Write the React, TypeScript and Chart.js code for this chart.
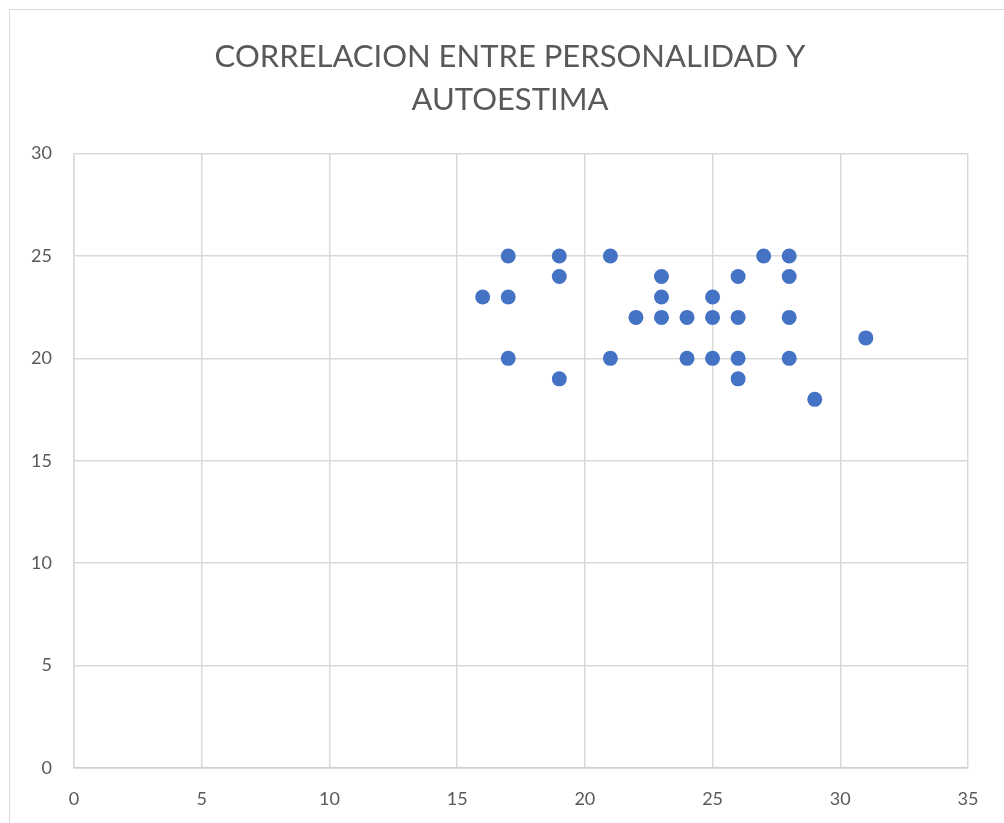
import React, { useEffect, useRef } from "react";
import { Chart, registerables } from "chart.js";

Chart.register(...registerables);

const titleLines = ["CORRELACION ENTRE PERSONALIDAD Y", "AUTOESTIMA"];
const personalidad = [16, 17, 17, 17, 19, 19, 19, 21, 21, 22, 23, 23, 23, 24, 24, 25, 25, 25, 26, 26, 26, 26, 27, 28, 28, 28, 28, 29, 31];
const autoestima = [23, 25, 23, 20, 25, 24, 19, 25, 20, 22, 24, 23, 22, 22, 20, 23, 22, 20, 24, 22, 20, 19, 25, 25, 24, 22, 20, 18, 21];
const xMin = 0, xMax = 35, xStep = 5;
const yMin = 0, yMax = 30, yStep = 5;

const FONT = "Lato, 'Open Sans', sans-serif";

export default function App() {
  const ref = useRef<HTMLCanvasElement | null>(null);
  useEffect(() => {
    if (!ref.current) return;
    const data = personalidad.map((x, i) => ({ x, y: autoestima[i] }));
    const chart = new Chart(ref.current, {
      type: "scatter",
      data: {
        datasets: [
          {
            data,
            backgroundColor: "#4472C4",
            borderColor: "#4472C4",
            borderWidth: 0,
            pointRadius: 7.5,
            pointHoverRadius: 7.5,
          },
        ],
      },
      options: {
        animation: false,
        responsive: false,
        maintainAspectRatio: false,
        layout: { padding: { left: 0, right: 0, top: 0, bottom: 0 } },
        plugins: {
          legend: { display: false },
          tooltip: { enabled: false },
          title: {
            display: true,
            text: titleLines,
            color: "#595959",
            font: { family: FONT, size: 31, weight: "normal", lineHeight: 1.38 },
            padding: { top: 26, bottom: 32 },
          },
        },
        scales: {
          x: {
            type: "linear",
            min: xMin,
            max: xMax,
            ticks: { stepSize: xStep, color: "#595959", font: { family: FONT, size: 18 }, padding: 20 },
            grid: { color: "#d9d9d9", lineWidth: 1.5, drawTicks: false },
            border: { color: "#d0d0d0", width: 1.5 },
            afterFit: (s: any) => { s.height = 55; },
          },
          y: {
            type: "linear",
            min: yMin,
            max: yMax,
            ticks: { stepSize: yStep, color: "#595959", font: { family: FONT, size: 18 }, padding: 22 },
            grid: { color: "#d9d9d9", lineWidth: 1.5, drawTicks: false },
            border: { color: "#d9d9d9", width: 1.5 },
            afterFit: (s: any) => { s.width = 64; },
          },
          yRight: {
            type: "linear",
            position: "right",
            min: yMin,
            max: yMax,
            ticks: { display: false },
            grid: { display: false, drawTicks: false },
            border: { display: false },
            afterFit: (s: any) => { s.width = 42; },
          },
        },
      },
    });
    return () => chart.destroy();
  }, []);
  return (
    <div
      style={{
        position: "absolute",
        left: 9,
        top: 9,
        width: 1016,
        height: 830,
        border: "1.5px solid #d9d9d9",
        background: "#fff",
        boxSizing: "border-box",
        overflow: "hidden",
      }}
    >
      <canvas ref={ref} width={1000} height={813} style={{ display: "block", width: 1000, height: 813 }} />
    </div>
  );
}
